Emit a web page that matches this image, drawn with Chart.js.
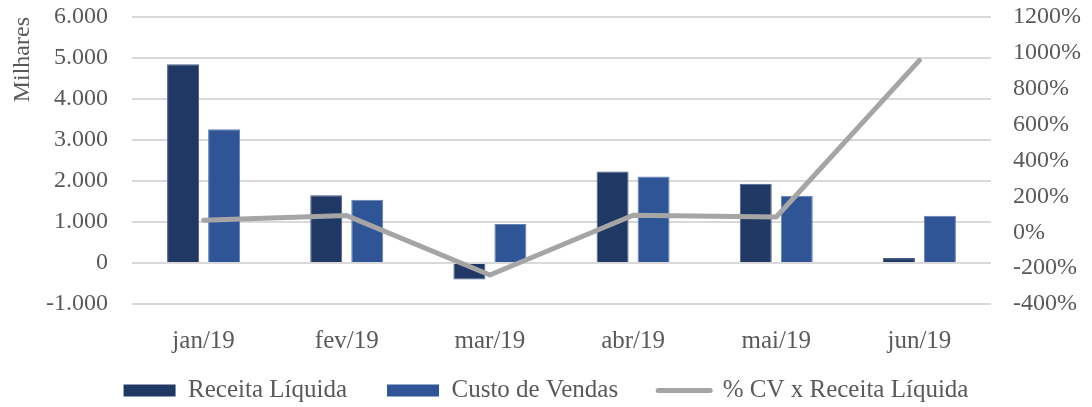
<!DOCTYPE html>
<html>
<head>
<meta charset="utf-8">
<script src="https://cdn.jsdelivr.net/npm/chart.js@4.4.1/dist/chart.umd.min.js"></script>
<style>
    html, body { margin: 0; padding: 0; background: #fff; }
    #area { width: 1092px; height: 407px; position: relative; }
</style>
</head>
<body>
<div id="area"><canvas id="grafico"></canvas></div>
<script>
// Dados (valores em milhares)
const meses = ["jan/19", "fev/19", "mar/19", "abr/19", "mai/19", "jun/19"];
const receitaLiquida = [4850, 1650, -400, 2230, 1930, 120];
const custoVendas = [3260, 1540, 950, 2110, 1640, 1150];
const cvReceita = [67, 93, -238, 95, 85, 958];

const corTexto = "#595959";
const fonte = "'Liberation Serif', 'DejaVu Serif', serif";

// 6000 -> "6.000"
function formatarMilhar(v){
    const s = Math.abs(v).toString().replace(/\B(?=(\d{3})+(?!\d))/g, ".");
    return (v < 0 ? "-" : "") + s;
}

// tira o espaço extra que o Chart.js reserva acima/abaixo dos eixos verticais
function ajustarEixoY(largura){
    return (escala) => {
        escala.width = largura;
        escala.paddingTop = 0;
        escala.paddingBottom = 0;
    };
}

const ctx = document.getElementById("grafico");

new Chart(ctx, {
    type: "bar",
    data: {
        labels: meses,
        datasets: [
            {
                label: "Receita Líquida",
                data: receitaLiquida,
                backgroundColor: "#203864",
                borderColor: "#4a5f86",
                borderWidth: 1,
                yAxisID: "y",
                order: 2,
                categoryPercentage: 0.573,
                barPercentage: 0.78
            },
            {
                label: "Custo de Vendas",
                data: custoVendas,
                backgroundColor: "#2f5597",
                borderColor: "#6381b6",
                borderWidth: 1,
                yAxisID: "y",
                order: 3,
                categoryPercentage: 0.573,
                barPercentage: 0.78
            },
            {
                type: "line",
                label: "% CV x Receita Líquida",
                data: cvReceita,
                borderColor: "#a5a5a5",
                backgroundColor: "#a5a5a5",
                borderWidth: 5,
                borderCapStyle: "round",
                borderJoinStyle: "round",
                pointRadius: 0,
                tension: 0,
                yAxisID: "y1",
                order: 1
            }
        ]
    },
    options: {
        responsive: true,
        maintainAspectRatio: false,
        animation: false,
        layout: { padding: { top: 17, bottom: 0, left: 0, right: 0 } },
        plugins: {
            tooltip: { enabled: false },
            legend: {
                position: "bottom",
                maxHeight: 69,
                labels: {
                    usePointStyle: true,
                    pointStyleWidth: 52,
                    boxWidth: 52,
                    boxHeight: 12,
                    padding: 40,
                    color: corTexto,
                    font: { family: fonte, size: 25 },
                    generateLabels: (chart) => chart.data.datasets.map((ds, i) => ({
                        text: ds.label,
                        datasetIndex: i,
                        fillStyle: ds.type === "line" ? "#a5a5a5" : ds.backgroundColor,
                        strokeStyle: ds.type === "line" ? "#a5a5a5" : ds.backgroundColor,
                        lineWidth: ds.type === "line" ? 5 : 0,
                        lineCap: "round",
                        pointStyle: ds.type === "line" ? "line" : "rect",
                        fontColor: corTexto,
                        hidden: false
                    }))
                }
            }
        },
        scales: {
            x: {
                grid: { display: false },
                border: { display: false },
                ticks: { color: corTexto, font: { family: fonte, size: 25 }, padding: 14 },
                afterFit: (escala) => {
                    escala.height = 34;
                    // deixa os rótulos passarem do limite do eixo (não cortar)
                    escala._computeLabelArea = () => null;
                }
            },
            y: {
                position: "left",
                min: -1000,
                max: 6000,
                ticks: {
                    stepSize: 1000,
                    padding: 24,
                    color: corTexto,
                    font: { family: fonte, size: 24 },
                    callback: (v) => formatarMilhar(v)
                },
                grid: { color: "#d9d9d9", lineWidth: 2, drawTicks: false },
                border: { display: false },
                title: {
                    display: true,
                    text: "Milhares",
                    align: "end",
                    color: corTexto,
                    font: { family: fonte, size: 24 },
                    padding: { top: 8, bottom: 0 }
                },
                afterFit: ajustarEixoY(132)
            },
            y1: {
                position: "right",
                min: -400,
                max: 1200,
                ticks: {
                    stepSize: 200,
                    padding: 22,
                    color: corTexto,
                    font: { family: fonte, size: 24 },
                    callback: (v) => v + "%"
                },
                grid: { display: false, drawTicks: false },
                border: { display: false },
                afterFit: ajustarEixoY(101)
            }
        }
    }
});
</script>
</body>
</html>
